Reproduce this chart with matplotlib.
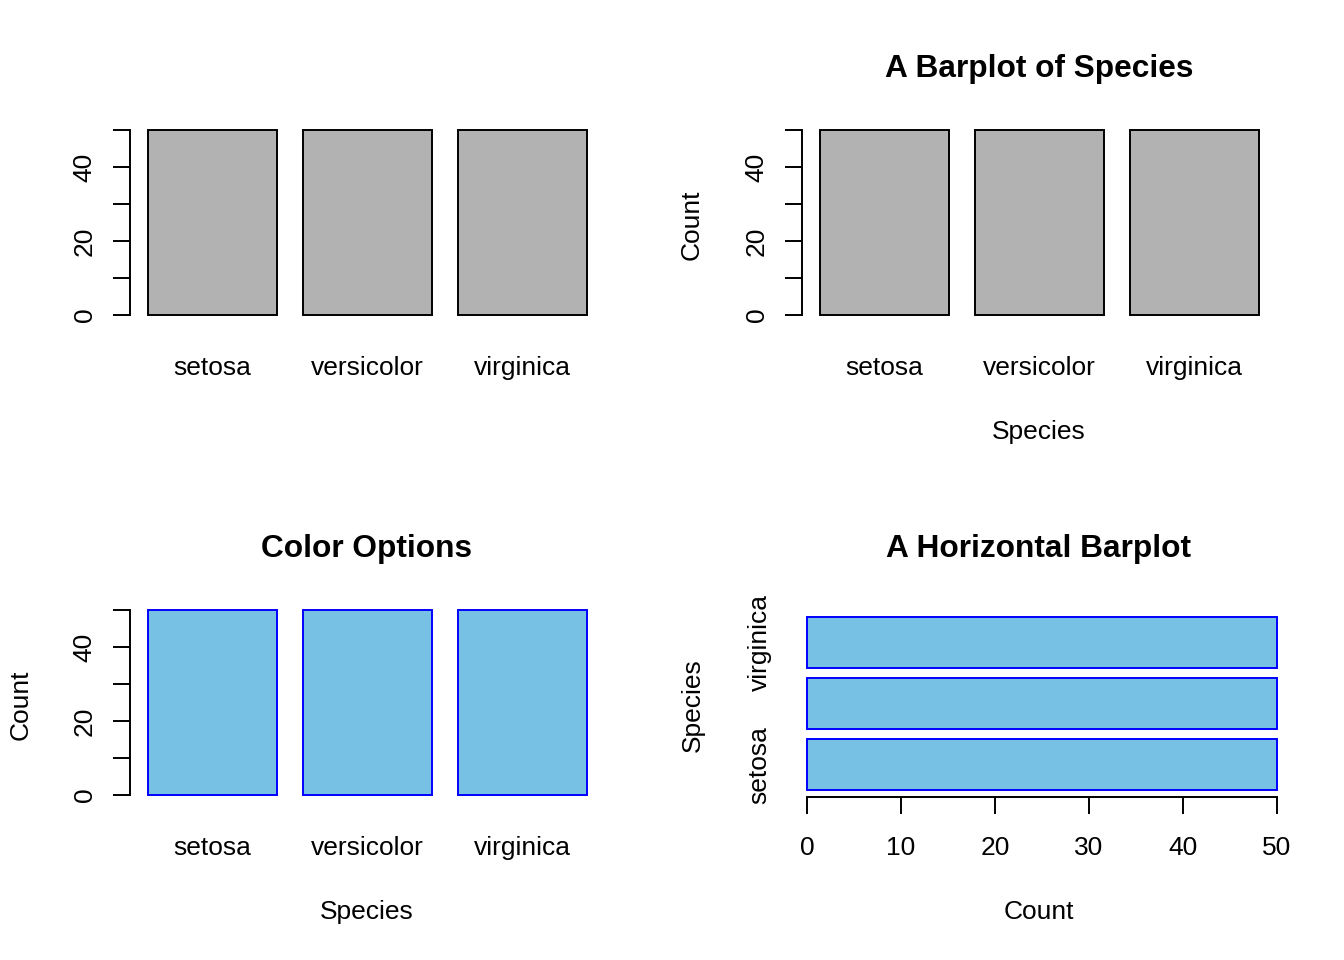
import matplotlib
matplotlib.use('Agg')
import matplotlib.pyplot as plt

species = ['setosa', 'versicolor', 'virginica']
counts = [50, 50, 50]
y_ticks = [0, 10, 20, 30, 40, 50]
y_ticklabels = ['0', '', '20', '', '40', '']
x_ticks = [0, 10, 20, 30, 40, 50]
h_ticklabels = ['setosa', '', 'virginica']   # R drops the overlapping middle name

W, H = 1344, 960
FS = 19
plt.rcParams['font.family'] = ['Liberation Sans', 'DejaVu Sans']
plt.rcParams['font.size'] = FS

gray = '#B2B2B2'
sky = '#77C1E5'
LW = 1.4

fig = plt.figure(figsize=(W / 100, H / 100), dpi=100)


def px_axes(x0, y0, x1, y1):
    return fig.add_axes([x0 / W, 1 - y1 / H, (x1 - x0) / W, (y1 - y0) / H])


def fig_text(x, y, s, **kw):
    fig.text(x / W, 1 - y / H, s, ha='center', va='center', **kw)


# bar positions like R barplot: width 1, space 0.2
pos = [0.2 + i * 1.2 + 0.5 for i in range(len(species))]
lo, hi = 0.2, 0.2 + len(species) * 1.2 - 0.2
ext = (hi - lo) * 0.04


def vbar(ax, fc, ec):
    ax.bar(pos, counts, width=1, color=fc, edgecolor=ec, linewidth=LW)
    ax.set_xlim(lo - ext, hi + ext)
    ax.set_ylim(-2, 52)
    for s in ['top', 'right', 'bottom']:
        ax.spines[s].set_visible(False)
    ax.spines['left'].set_linewidth(LW)
    ax.spines['left'].set_bounds(0, 50)
    ax.set_yticks(y_ticks)
    ax.set_yticklabels(y_ticklabels, rotation=90, va='center')
    ax.tick_params(axis='y', length=12, width=LW, pad=12)
    ax.set_xticks(pos)
    ax.set_xticklabels(species)
    ax.tick_params(axis='x', length=0, pad=24)


ax1 = px_axes(130, 122.6, 604.5, 322.4)
vbar(ax1, gray, 'black')

ax2 = px_axes(802, 122.6, 1276.5, 322.4)
vbar(ax2, gray, 'black')
fig_text(1039, 69, 'A Barplot of Species', fontsize=FS * 1.2, fontweight='bold')
fig_text(692, 225, 'Count', rotation=90)
fig_text(1039, 432, 'Species')

ax3 = px_axes(130, 602.6, 604.5, 802.4)
vbar(ax3, sky, 'blue')
fig_text(367, 549, 'Color Options', fontsize=FS * 1.2, fontweight='bold')
fig_text(21, 705, 'Count', rotation=90)
fig_text(367, 912, 'Species')

# horizontal barplot
ax4 = px_axes(788.2, 610, 1295.8, 797)
ax4.barh(pos, counts, height=1, color=sky, edgecolor='blue', linewidth=LW)
ax4.set_ylim(lo - ext, hi + ext)
ax4.set_xlim(-2, 52)
for s in ['top', 'right', 'left']:
    ax4.spines[s].set_visible(False)
ax4.spines['bottom'].set_linewidth(LW)
ax4.spines['bottom'].set_bounds(0, 50)
ax4.set_xticks(x_ticks)
ax4.tick_params(axis='x', length=12, width=LW, pad=16)
ax4.set_yticks(pos)
ax4.set_yticklabels(h_ticklabels, rotation=90, va='center')
ax4.tick_params(axis='y', length=0, pad=12)
fig_text(1039, 549, 'A Horizontal Barplot', fontsize=FS * 1.2, fontweight='bold')
fig_text(693, 705, 'Species', rotation=90)
fig_text(1039, 912, 'Count')

fig.savefig('out.png', dpi=100)
